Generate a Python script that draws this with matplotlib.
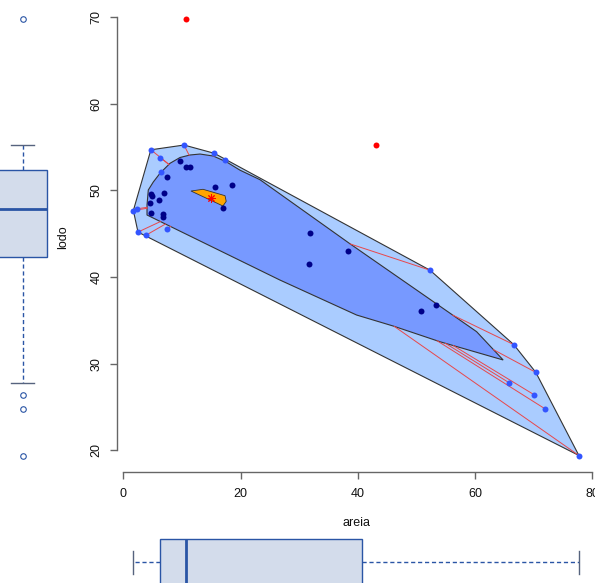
import numpy as np
import matplotlib
matplotlib.use("Agg")
import matplotlib.pyplot as plt
from matplotlib.patches import Polygon

plt.rcParams['font.family'] = ['Liberation Sans', 'DejaVu Sans']

# ---------------- data (areia = x, lodo = y) ----------------
loop_x = [1.71, 2.28, 2.5, 3.9, 7.45, 4.7, 6.3, 6.5, 10.35, 15.5, 17.3,
          52.3, 66.6, 70.35, 65.8, 70.1, 71.9, 77.7]
loop_y = [47.69, 47.88, 45.2, 44.85, 45.55, 54.7, 53.8, 52.1, 55.25, 54.3, 53.5,
          40.8, 32.2, 29.0, 27.8, 26.4, 24.8, 19.4]
bag_x = [9.6, 10.75, 11.3, 7.5, 15.6, 18.5, 4.8, 4.9, 6.9, 6.1, 4.55, 4.7,
         6.7, 6.7, 17.05, 31.9, 38.25, 31.65, 50.75, 53.4]
bag_y = [53.4, 52.7, 52.7, 51.6, 50.4, 50.6, 49.55, 49.4, 49.7, 48.9, 48.5, 47.45,
         47.3, 46.9, 47.95, 45.05, 43.05, 41.5, 36.1, 36.8]
out_x = [10.7, 43.1]
out_y = [69.8, 55.25]

# bag hull
bag_hull_x = [4.04, 4.04, 4.26, 5.11, 6.26, 7.96, 9.67, 11.37, 13.08, 15.34, 17.63,
              19.89, 23.3, 38.65, 60.25, 64.78, 53.99, 46.03, 39.79, 26.71]
bag_hull_y = [47.17, 48.33, 50.06, 50.98, 51.99, 53.14, 53.81, 54.10, 54.21, 53.98, 53.29,
              52.35, 51.25, 43.85, 33.70, 30.43, 32.54, 34.35, 35.62, 39.66]
# center (deepest) region and depth median
center_hull_x = [11.54, 13.59, 17.34, 17.55, 16.99]
center_hull_y = [49.94, 50.14, 49.40, 48.75, 48.21]
center_x, center_y = 14.9, 49.13

xlabel, ylabel = "areia", "lodo"
xticks = [0, 20, 40, 60, 80]
yticks = [20, 30, 40, 50, 60, 70]

# ---------------- helpers ----------------
def convex_hull(pts):
    pts = sorted(set(map(tuple, pts)))
    def cross(o, a, b):
        return (a[0]-o[0])*(b[1]-o[1]) - (a[1]-o[1])*(b[0]-o[0])
    lower, upper = [], []
    for p in pts:
        while len(lower) >= 2 and cross(lower[-2], lower[-1], p) <= 0:
            lower.pop()
        lower.append(p)
    for p in reversed(pts):
        while len(upper) >= 2 and cross(upper[-2], upper[-1], p) <= 0:
            upper.pop()
        upper.append(p)
    return np.array(lower[:-1] + upper[:-1])

def whisker_end(p, c, poly):
    best = None
    n = len(poly)
    d = c - p
    for i in range(n):
        a, b = poly[i], poly[(i+1) % n]
        e = b - a
        den = d[0]*e[1] - d[1]*e[0]
        if abs(den) < 1e-12:
            continue
        w = a - p
        t = (w[0]*e[1] - w[1]*e[0]) / den
        u = (w[0]*d[1] - w[1]*d[0]) / den
        if 0 <= t <= 1 and 0 <= u <= 1:
            if best is None or t < best:
                best = t
    if best is None:
        return None
    return p + best*d

def fivenum(v):
    v = np.sort(np.asarray(v)); n = len(v)
    n4 = np.floor((n+3)/2)/2
    d = np.array([1, n4, (n+1)/2, n+1-n4, n])
    return 0.5*(v[np.floor(d).astype(int)-1] + v[np.ceil(d).astype(int)-1])

def r_stats(v):
    v = np.asarray(v)
    f = fivenum(v)
    iqr = f[3]-f[1]
    lo, hi = f[1]-1.5*iqr, f[3]+1.5*iqr
    inside = v[(v >= lo) & (v <= hi)]
    return dict(med=f[2], q1=f[1], q3=f[3], whislo=inside.min(), whishi=inside.max(),
                fliers=v[(v < lo) | (v > hi)])

# ---------------- figure ----------------
W, H = 595, 583
fig = plt.figure(figsize=(W/100, H/100), dpi=100)
L, R, T, B = 116.7, 596.5, 1.7, 471.7
ax = fig.add_axes([L/W, (H-B)/H, (R-L)/W, (B-T)/H])
ax.set_xlim(-1.13, 80.7)
ax.set_ylim(17.53, 71.8)

all_x = np.array(loop_x + bag_x)
all_y = np.array(loop_y + bag_y)
hull = convex_hull(np.column_stack([all_x, all_y]))
ax.add_patch(Polygon(hull, closed=True, facecolor='#aaccff', edgecolor='#333333', lw=0.8, zorder=1))
bag_poly = np.column_stack([bag_hull_x, bag_hull_y])
ax.add_patch(Polygon(bag_poly, closed=True, facecolor='#7799ff', edgecolor='#333333', lw=0.8, zorder=2))

c = np.array([center_x, center_y])
for px, py in zip(loop_x, loop_y):
    p = np.array([px, py])
    q = whisker_end(p, c, bag_poly)
    if q is not None:
        ax.plot([p[0], q[0]], [p[1], q[1]], color='#e8474a', lw=0.7, zorder=3)

ax.add_patch(Polygon(np.column_stack([center_hull_x, center_hull_y]), closed=True,
                     facecolor='orange', edgecolor='#333333', lw=0.6, zorder=4))
ax.plot([center_x], [center_y], marker=(8, 2, 0), color='red', ms=6, mew=0.7, ls='none', zorder=6)

ax.plot(loop_x, loop_y, 'o', color='#3355ff', ms=4.3, mew=0, zorder=5)
ax.plot(bag_x, bag_y, 'o', color='#000088', ms=4.3, mew=0, zorder=5)
ax.plot(out_x, out_y, 'o', color='red', ms=4.3, mew=0, zorder=5)

for s in ['top', 'right']:
    ax.spines[s].set_visible(False)
for s in ['left', 'bottom']:
    ax.spines[s].set_color('#666666')
    ax.spines[s].set_linewidth(1.0)
ax.spines['left'].set_bounds(min(yticks), max(yticks))
ax.spines['bottom'].set_bounds(min(xticks), max(xticks))
ax.set_xticks(xticks)
ax.set_yticks(yticks)
ax.tick_params(axis='both', direction='out', length=5, width=1.0, color='#666666',
               labelsize=9, labelcolor='#111111')
ax.tick_params(axis='x', pad=7)
ax.tick_params(axis='y', pad=5)
for lab in ax.get_yticklabels():
    lab.set_rotation(90)
    lab.set_va('center')
ax.set_xlabel(xlabel, fontsize=9, color='#111111')
ax.set_ylabel(ylabel, fontsize=9, color='#111111')
ax.xaxis.label.set_va('center')
ax.yaxis.label.set_va('center')
ax.xaxis.set_label_coords(0.5, (B-522.5)/(B-T))
ax.yaxis.set_label_coords((63.0-L)/(R-L), 0.5)

# ---------------- marginal boxplots ----------------
box_face = '#d3dceb'
box_edge = '#2a55a5'
cap_col = '#56637e'

axl = fig.add_axes([0, (H-B)/H, 60/W, (B-T)/H])
axl.set_ylim(ax.get_ylim())
axl.set_xlim(0, 60)
axl.axis('off')
axl.bxp([r_stats(all_y.tolist() + out_y)], positions=[22.5], widths=49, capwidths=23,
        vert=True, patch_artist=True, showfliers=True,
        boxprops=dict(facecolor=box_face, edgecolor=box_edge, lw=1),
        medianprops=dict(color=box_edge, lw=2),
        whiskerprops=dict(color=box_edge, lw=1, ls=(0, (3, 2))),
        capprops=dict(color=cap_col, lw=1),
        flierprops=dict(marker='o', mfc='none', mec=box_edge, ms=4, mew=0.8))

axb = fig.add_axes([L/W, 0, (R-L)/W, 63/H])
axb.set_xlim(ax.get_xlim())
axb.set_ylim(0, 63)
axb.axis('off')
axb.bxp([r_stats(all_x.tolist() + out_x)], positions=[21], widths=46, capwidths=23,
        vert=False, patch_artist=True, showfliers=True,
        boxprops=dict(facecolor=box_face, edgecolor=box_edge, lw=1),
        medianprops=dict(color=box_edge, lw=2),
        whiskerprops=dict(color=box_edge, lw=1, ls=(0, (3, 2))),
        capprops=dict(color=cap_col, lw=1),
        flierprops=dict(marker='o', mfc='none', mec=box_edge, ms=4, mew=0.8))

fig.savefig('out.png', dpi=100)
